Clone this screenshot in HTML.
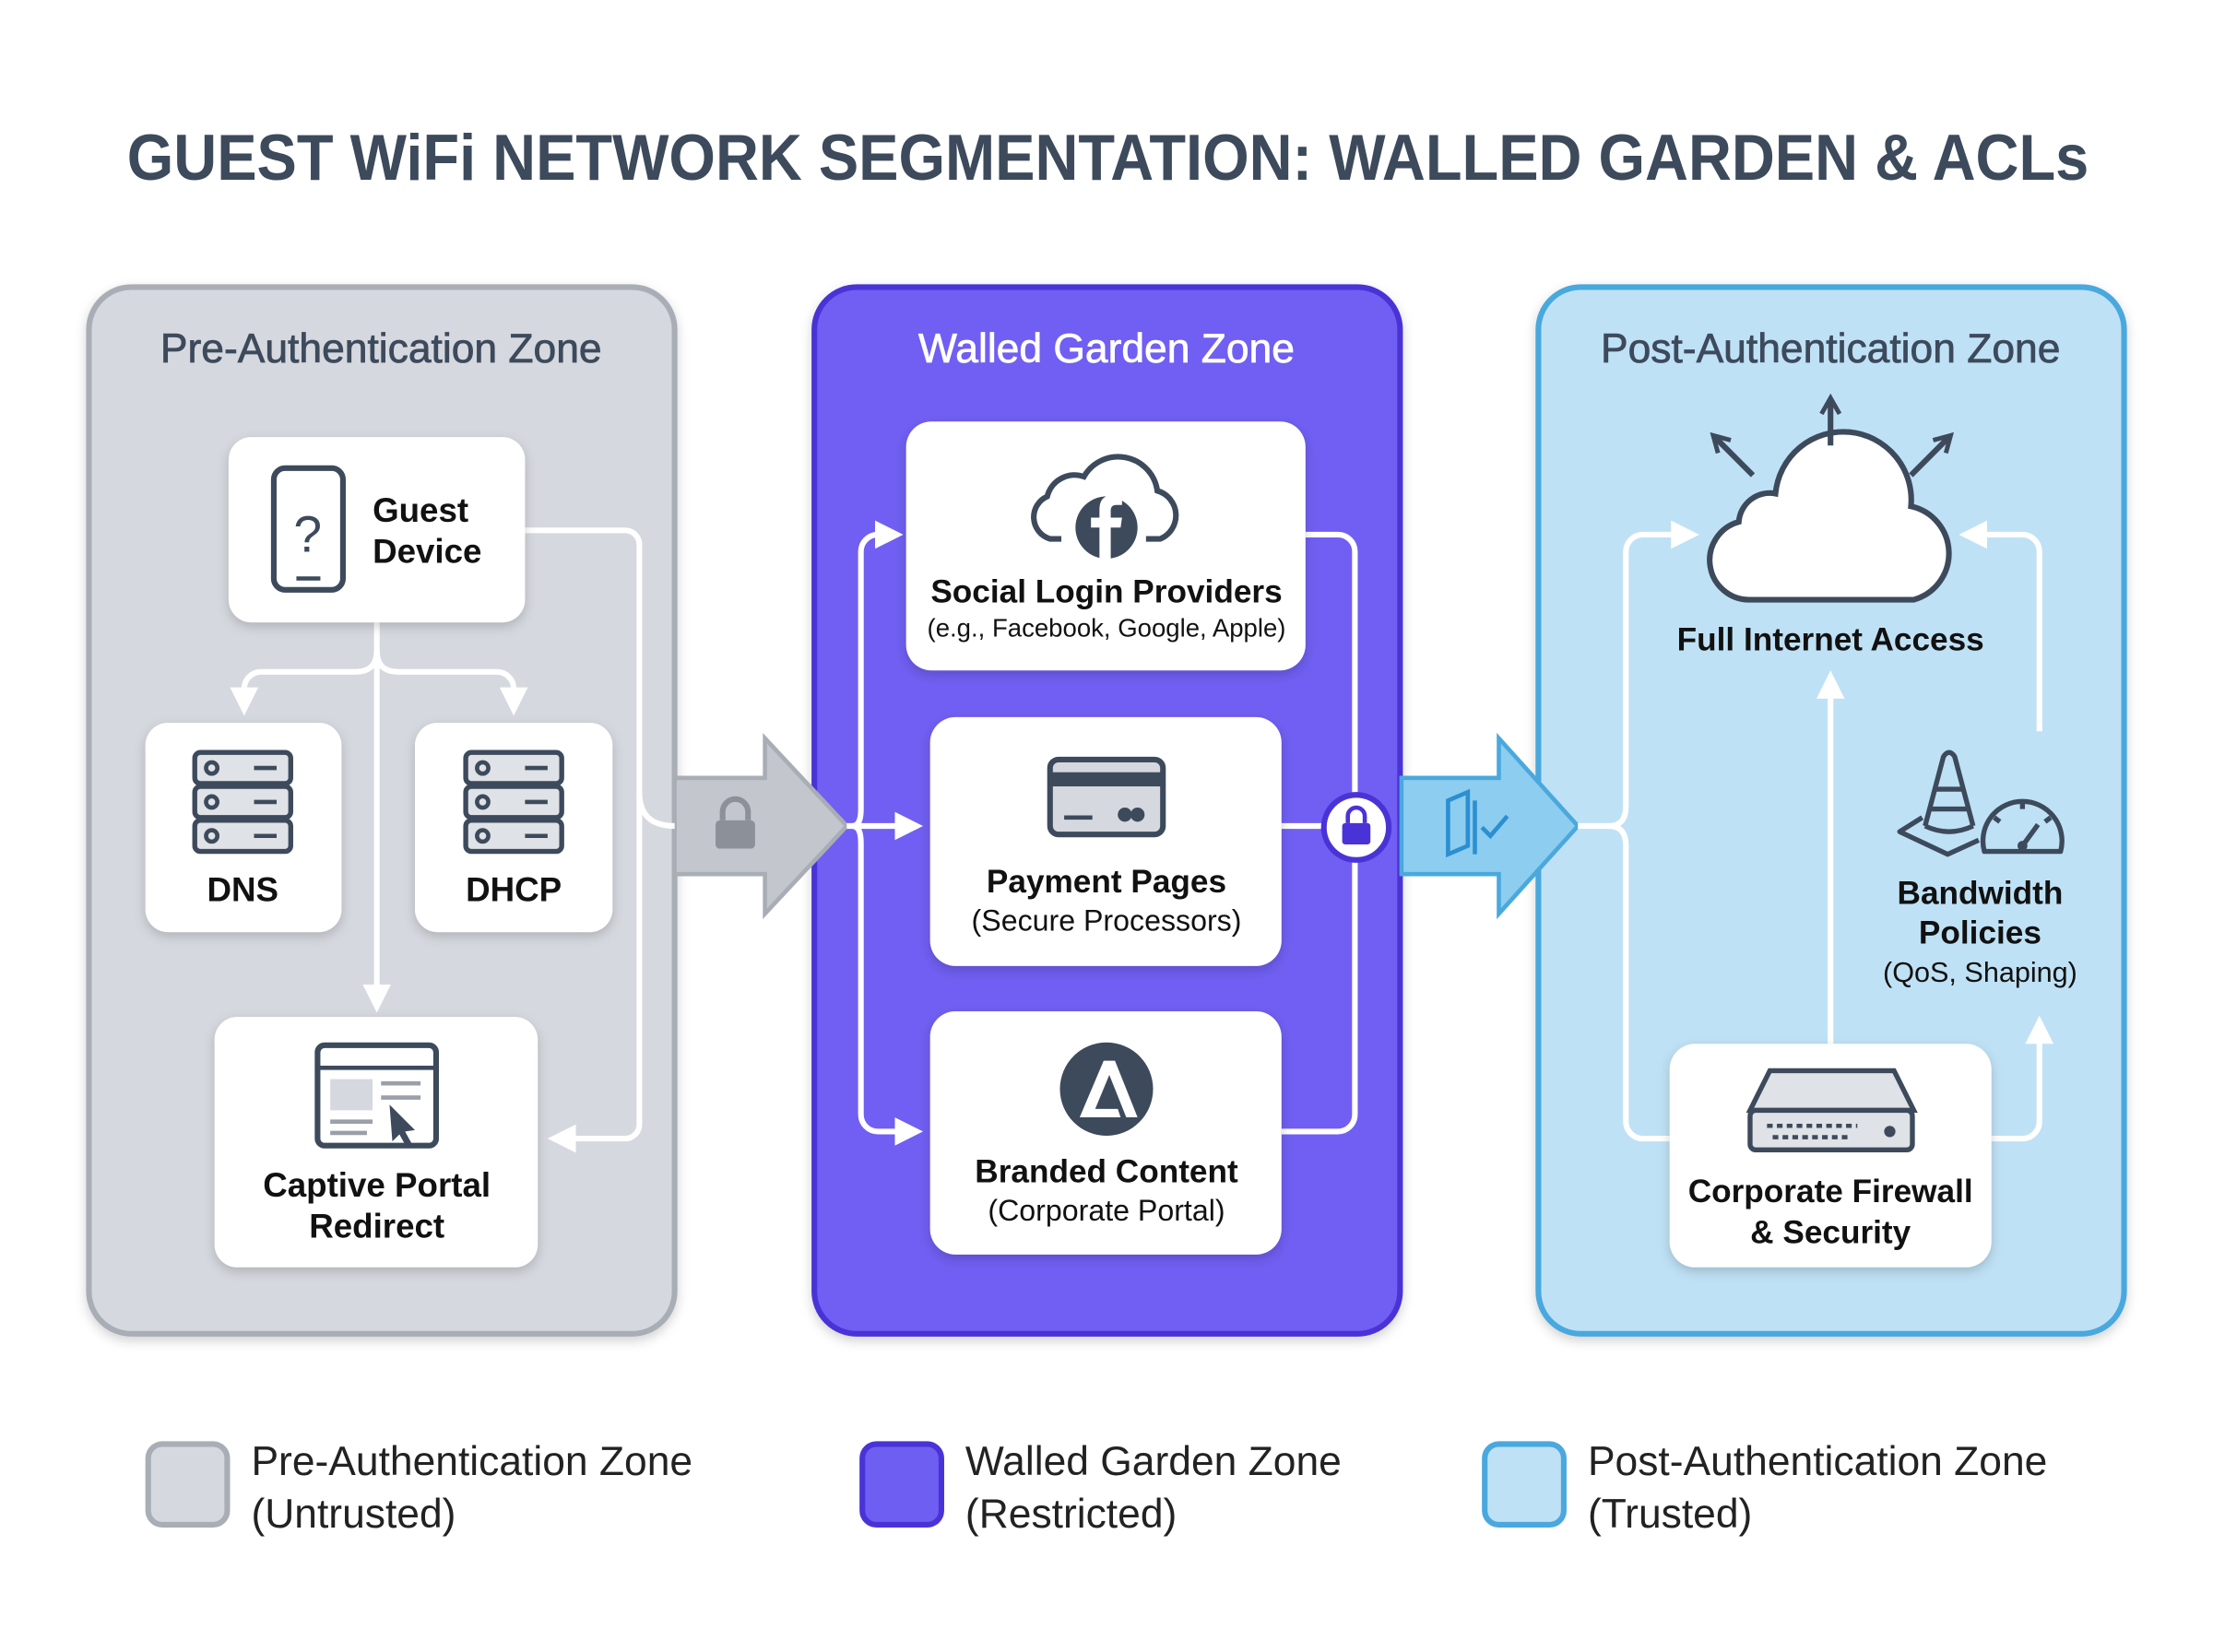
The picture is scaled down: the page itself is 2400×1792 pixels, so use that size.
<!DOCTYPE html>
<html><head><meta charset="utf-8"><style>
html,body{margin:0;padding:0;background:#fff;}
svg{display:block;}
text{font-family:"Liberation Sans",sans-serif;}
</style></head><body>
<svg width="2400" height="1792" viewBox="0 0 1568 1168" preserveAspectRatio="none" xmlns="http://www.w3.org/2000/svg">
<defs>
<filter id="sh" x="-20%" y="-20%" width="140%" height="140%"><feDropShadow dx="0" dy="3" stdDeviation="4" flood-color="#000" flood-opacity="0.18"/></filter>
<marker id="ah" viewBox="0 0 10 10" refX="8" refY="5" markerWidth="5" markerHeight="5" orient="auto"><path d="M0,0 L10,5 L0,10 z" fill="#fff"/></marker>
<marker id="ad" viewBox="0 0 10 10" refX="7" refY="5" markerWidth="4" markerHeight="4" orient="auto"><path d="M1,1 L8,5 L1,9" fill="none" stroke="#3d4a5c" stroke-width="2"/></marker>
</defs>
<rect width="1568" height="1168" fill="#fff"/>
<text x="90" y="127" textLength="1390" lengthAdjust="spacingAndGlyphs" font-size="46" font-weight="bold" fill="#3d4a5c">GUEST WiFi NETWORK SEGMENTATION: WALLED GARDEN &amp; ACLs</text>

<!-- zones -->
<rect x="63" y="203" width="415" height="740" rx="30" fill="#d5d8de" stroke="#a9adb5" stroke-width="4" filter="url(#sh)"/>
<rect x="577" y="203" width="415" height="740" rx="30" fill="#6f5ef2" stroke="#4a33d6" stroke-width="4" filter="url(#sh)"/>
<rect x="1090" y="203" width="415" height="740" rx="30" fill="#bfe1f5" stroke="#4aa8dd" stroke-width="4" filter="url(#sh)"/>
<text x="270" y="256" text-anchor="middle" font-size="29" fill="#3d4a5c" stroke="#3d4a5c" stroke-width="0.5">Pre-Authentication Zone</text>
<text x="784" y="256" text-anchor="middle" font-size="29" fill="#fff" stroke="#fff" stroke-width="0.5">Walled Garden Zone</text>
<text x="1297" y="256" text-anchor="middle" font-size="29" fill="#3d4a5c" stroke="#3d4a5c" stroke-width="0.5">Post-Authentication Zone</text>

<!-- big arrows -->
<path d="M478,550 L542,550 L542,522 L600,584 L542,646 L542,618 L478,618 z" fill="#c3c6cd" stroke="#a9adb5" stroke-width="3"/>
<g transform="translate(521,584)" fill="#8b9099"><rect x="-14" y="-4" width="28" height="20" rx="3"/><path d="M-9,-4 v-6 a9,9 0 0 1 18,0 v6" fill="none" stroke="#8b9099" stroke-width="4"/></g>
<path d="M993,550 L1062,550 L1062,522 L1118,584 L1062,646 L1062,618 L993,618 z" fill="#8ccdf0" stroke="#4aa8dd" stroke-width="3"/>
<g stroke="#2b8fd0" stroke-width="3" fill="none"><path d="M1026,566 v38 l14,-6 v-38 z"/><path d="M1045,566 v38"/><path d="M1050,585 l6,6 l12,-14"/></g>

<!-- zone1 connectors -->
<g stroke="#fff" stroke-width="4" fill="none">
<path d="M372,375 H443 a10,10 0 0 1 10,10 V795 a10,10 0 0 1 -10,10 H392" marker-end="url(#ah)"/>
<path d="M453,560 q0,24 25,24"/>
<path d="M267,440 V712" marker-end="url(#ah)"/>
<path d="M267,460 q0,15 -15,15 H185 a12,12 0 0 0 -12,12 V502" marker-end="url(#ah)"/>
<path d="M267,460 q0,15 15,15 H352 a12,12 0 0 1 12,12 V502" marker-end="url(#ah)"/>
</g>
<!-- zone2 connectors -->
<g stroke="#fff" stroke-width="4" fill="none">
<path d="M600,584 H650" marker-end="url(#ah)"/>
<path d="M604,584 q6,0 6,-12 V390 a12,12 0 0 1 12,-12 H636" marker-end="url(#ah)"/>
<path d="M604,584 q6,0 6,12 V788 a12,12 0 0 0 12,12 H650" marker-end="url(#ah)"/>
<path d="M925,378 H948 a12,12 0 0 1 12,12 V788 a12,12 0 0 1 -12,12 H908"/>
<path d="M908,584 H940"/>
</g>
<circle cx="961" cy="585" r="23" fill="#fff" stroke="#4a33d6" stroke-width="4"/>
<g transform="translate(961,585)" fill="#4a33d6"><rect x="-10" y="-3" width="20" height="15" rx="2"/><path d="M-6,-3 v-5 a6,6 0 0 1 12,0 v5" fill="none" stroke="#4a33d6" stroke-width="3"/></g>
<!-- zone3 connectors -->
<g stroke="#fff" stroke-width="4" fill="none">
<path d="M1118,584 H1140 q12,0 12,-14 V390 a12,12 0 0 1 12,-12 H1200" marker-end="url(#ah)"/>
<path d="M1140,584 q12,0 12,14 V793 a12,12 0 0 0 12,12 H1183"/>
<path d="M1297,738 V478" marker-end="url(#ah)"/>
<path d="M1411,805 H1433 a12,12 0 0 0 12,-12 V722" marker-end="url(#ah)"/>
<path d="M1445,517 V390 a12,12 0 0 0 -12,-12 H1392" marker-end="url(#ah)"/>
</g>

<!-- nodes -->
<g filter="url(#sh)" fill="#fff">
<rect x="162" y="309" width="210" height="131" rx="16"/>
<rect x="103" y="511" width="139" height="148" rx="16"/>
<rect x="294" y="511" width="140" height="148" rx="16"/>
<rect x="152" y="719" width="229" height="177" rx="16"/>
<rect x="642" y="298" width="283" height="176" rx="18"/>
<rect x="659" y="507" width="249" height="176" rx="18"/>
<rect x="659" y="715" width="249" height="172" rx="18"/>
<rect x="1183" y="738" width="228" height="158" rx="18"/>
</g>
<!-- phone -->
<rect x="194" y="331" width="49" height="86" rx="8" fill="none" stroke="#3d4a5c" stroke-width="4"/>
<text x="218" y="390" text-anchor="middle" font-size="36" fill="#3d4a5c">?</text>
<line x1="210" y1="409" x2="227" y2="409" stroke="#3d4a5c" stroke-width="3"/>
<text x="264" y="369" font-size="24" font-weight="bold" fill="#111">Guest</text>
<text x="264" y="398" font-size="24" font-weight="bold" fill="#111">Device</text>
<!-- servers -->
<g fill="#dfe2e6" stroke="#3d4a5c" stroke-width="3.5">
<rect x="138" y="532" width="68" height="22" rx="4"/><rect x="138" y="556" width="68" height="22" rx="4"/><rect x="138" y="580" width="68" height="22" rx="4"/>
<rect x="330" y="532" width="68" height="22" rx="4"/><rect x="330" y="556" width="68" height="22" rx="4"/><rect x="330" y="580" width="68" height="22" rx="4"/>
</g>
<g fill="none" stroke="#3d4a5c" stroke-width="3"><circle cx="150" cy="543" r="4"/><circle cx="150" cy="567" r="4"/><circle cx="150" cy="591" r="4"/><path d="M180,543h16M180,567h16M180,591h16"/>
<circle cx="342" cy="543" r="4"/><circle cx="342" cy="567" r="4"/><circle cx="342" cy="591" r="4"/><path d="M372,543h16M372,567h16M372,591h16"/></g>
<text x="172" y="637" text-anchor="middle" font-size="24" font-weight="bold" fill="#111">DNS</text>
<text x="364" y="637" text-anchor="middle" font-size="24" font-weight="bold" fill="#111">DHCP</text>
<!-- browser -->
<rect x="225" y="739" width="84" height="71" rx="5" fill="#fff" stroke="#3d4a5c" stroke-width="4"/>
<line x1="225" y1="755" x2="309" y2="755" stroke="#3d4a5c" stroke-width="3"/>
<rect x="234" y="763" width="30" height="22" fill="#d5d8de"/>
<path d="M270,766h28M270,776h28M234,793h30M234,801h26" stroke="#9aa0a8" stroke-width="3"/>
<path d="M276,781 l18,18 -7,1 5,9 -4,2 -5,-9 -5,5 z" fill="#3d4a5c"/>
<text x="267" y="846" text-anchor="middle" font-size="24" font-weight="bold" fill="#111">Captive Portal</text>
<text x="267" y="875" text-anchor="middle" font-size="24" font-weight="bold" fill="#111">Redirect</text>

<!-- social -->
<path d="M752,381 h-8 a16,16 0 0 1 -2,-30 a20,20 0 0 1 26,-14 a28,28 0 0 1 52,10 a18,18 0 0 1 2,34 h-10" fill="none" stroke="#3d4a5c" stroke-width="4"/>
<circle cx="784" cy="373" r="22" fill="#3d4a5c"/>
<path d="M787,395 v-22 h7 l1,-7 h-8 v-5 q0,-4 4,-4 h4 v-7 h-6 q-10,0 -10,10 v6 h-6 v7 h6 v22 z" fill="#fff"/>
<text x="784" y="426" text-anchor="middle" font-size="23" font-weight="bold" fill="#111">Social Login Providers</text>
<text x="784" y="450" text-anchor="middle" font-size="18" fill="#111">(e.g., Facebook, Google, Apple)</text>
<!-- card -->
<rect x="744" y="537" width="80" height="53" rx="6" fill="#d5d8de" stroke="#3d4a5c" stroke-width="4"/>
<rect x="744" y="546" width="80" height="10" fill="#3d4a5c"/>
<path d="M754,578h20" stroke="#3d4a5c" stroke-width="3"/>
<circle cx="797" cy="576" r="5" fill="#3d4a5c"/><circle cx="806" cy="576" r="5" fill="#3d4a5c"/>
<text x="784" y="631" text-anchor="middle" font-size="23" font-weight="bold" fill="#111">Payment Pages</text>
<text x="784" y="658" text-anchor="middle" font-size="21" fill="#111">(Secure Processors)</text>
<!-- branded -->
<circle cx="784" cy="770" r="33" fill="#3d4a5c"/>
<path d="M765,790 L782,750 L790,750 L806,790 L798,790 L786,760 L776,784 L792,784 L794,790 z" fill="#fff"/>
<text x="784" y="836" text-anchor="middle" font-size="23" font-weight="bold" fill="#111">Branded Content</text>
<text x="784" y="863" text-anchor="middle" font-size="21" fill="#111">(Corporate Portal)</text>

<!-- cloud -->
<path d="M1240,424 a28,28 0 0 1 -8,-55 a22,22 0 0 1 26,-20 a42,42 0 0 1 96,9 a34,34 0 0 1 2,66 z" fill="#fff" stroke="#3d4a5c" stroke-width="4"/>
<g stroke="#3d4a5c" stroke-width="4" fill="none" marker-end="url(#ad)">
<path d="M1297,315 V283"/><path d="M1242,336 L1215,309"/><path d="M1354,336 L1381,309"/>
</g>
<text x="1297" y="460" text-anchor="middle" font-size="23" font-weight="bold" fill="#111">Full Internet Access</text>
<!-- cone & gauge -->
<g stroke="#3d4a5c" stroke-width="3.5" fill="none" stroke-linejoin="round">
<path d="M1364,584 L1377,535 q4,-6 8,0 L1398,584"/>
<path d="M1371,558 h20 M1367,572 h28"/>
<path d="M1364,584 q17,8 34,0"/>
<path d="M1362,578 l-16,10 34,16 22,-10"/>
<path d="M1406,602 a28,28 0 1 1 54,0 z"/>
<path d="M1433,598 l11,-15"/>
<path d="M1433,567 v5 M1413,578 l4,3 M1453,578 l-4,3"/>
</g>
<circle cx="1433" cy="598" r="3.5" fill="#3d4a5c"/>
<text x="1403" y="639" text-anchor="middle" font-size="23" font-weight="bold" fill="#111">Bandwidth</text>
<text x="1403" y="667" text-anchor="middle" font-size="23" font-weight="bold" fill="#111">Policies</text>
<text x="1403" y="694" text-anchor="middle" font-size="20" fill="#111">(QoS, Shaping)</text>
<!-- firewall -->
<path d="M1240,785 l14,-28 h88 l14,28 z" fill="#dfe2e6" stroke="#3d4a5c" stroke-width="3.5"/>
<rect x="1240" y="785" width="115" height="28" rx="4" fill="#dfe2e6" stroke="#3d4a5c" stroke-width="3.5"/>
<path d="M1252,796h64M1256,804h56" stroke="#3d4a5c" stroke-width="3" stroke-dasharray="4,3"/>
<circle cx="1339" cy="800" r="4" fill="#3d4a5c"/>
<text x="1297" y="850" text-anchor="middle" font-size="23" font-weight="bold" fill="#111">Corporate Firewall</text>
<text x="1297" y="879" text-anchor="middle" font-size="23" font-weight="bold" fill="#111">&amp; Security</text>

<!-- legend -->
<rect x="105" y="1021" width="56" height="57" rx="10" fill="#d5d8de" stroke="#a9adb5" stroke-width="4"/>
<text x="178" y="1043" font-size="29" fill="#222">Pre-Authentication Zone</text>
<text x="178" y="1080" font-size="29" fill="#222">(Untrusted)</text>
<rect x="611" y="1021" width="56" height="57" rx="10" fill="#6f5ef2" stroke="#4a33d6" stroke-width="4"/>
<text x="684" y="1043" font-size="29" fill="#222">Walled Garden Zone</text>
<text x="684" y="1080" font-size="29" fill="#222">(Restricted)</text>
<rect x="1052" y="1021" width="56" height="57" rx="10" fill="#bfe1f5" stroke="#4aa8dd" stroke-width="4"/>
<text x="1125" y="1043" font-size="29" fill="#222">Post-Authentication Zone</text>
<text x="1125" y="1080" font-size="29" fill="#222">(Trusted)</text>
</svg>
</body></html>
